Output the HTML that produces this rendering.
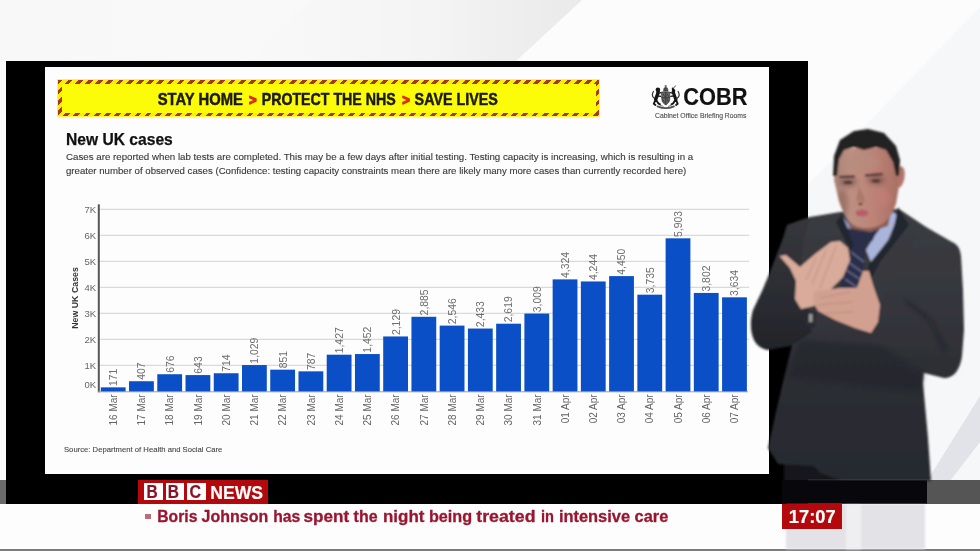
<!DOCTYPE html>
<html lang="en">
<head>
<meta charset="utf-8">
<title>BBC News - New UK cases</title>
<style>
html,body{margin:0;padding:0;}
body{width:980px;height:551px;overflow:hidden;position:relative;background:#fcfcfc;font-family:"Liberation Sans",sans-serif;}
.abs{position:absolute;}
#bg{left:0;top:0;width:980px;height:551px;}
#frame{left:6px;top:60.5px;width:802px;height:443.1px;background:#000;}
#slide{left:45px;top:67px;width:724px;height:407px;background:#fdfdfd;}
#banner{left:57px;top:79px;width:543px;height:38px;background:#fbfb3c;}
#banner .stripes{position:absolute;left:1px;top:1px;right:1px;bottom:1px;background:repeating-linear-gradient(135deg,#a83a12 0 3.4px,#f8f000 3.4px 7.2px);}
#banner .inner{position:absolute;left:4.5px;top:4.5px;right:4.5px;bottom:4.5px;background:#fcfc08;}
#chart{left:0;top:0;}
#chart text,#txt text,#headline text{font-family:"Liberation Sans",sans-serif;}
#txt,#headline{left:0;top:0;}
#txt,#chart,#headline,#banner,#crest,#bbc,#time,#bullet{filter:blur(0.45px);}
.yl{font-size:9.5px;fill:#666;}
.vl{font-size:10.4px;fill:#6e6e6e;}
.xl{font-size:10px;fill:#646464;}
.yt{font-size:8.8px;font-weight:bold;fill:#333;}
#band{left:0;top:480.4px;width:980px;height:23.2px;background:#6a6a6a;}
#bandr{left:808px;top:480.4px;width:172px;height:23.2px;background:#555;}
#white{left:0;top:503.6px;width:980px;height:45px;background:#fdfdfd;}
#bottomline{left:0;top:549.2px;width:980px;height:2px;background:#7c7c7c;}
#bbc{left:138px;top:480.3px;width:130px;height:23.3px;background:#b3080c;}
#bbc .blk{position:absolute;top:2.8px;width:18.6px;height:17.4px;background:#fff;color:#8c1424;font-weight:bold;font-size:17px;line-height:17.8px;text-align:center;}
#bbc .news{position:absolute;left:72.6px;top:1.6px;color:#fff;font-weight:bold;font-size:17.7px;line-height:20px;white-space:nowrap;}
#bullet{left:145px;top:513.6px;width:5.6px;height:5.8px;background:#c06b78;}
#time{left:782px;top:504.4px;width:60px;height:24.2px;background:#b3080c;color:#fff;font-weight:bold;font-size:18px;line-height:24.6px;text-align:center;}
#person{left:0;top:0;}
</style>
</head>
<body>
<svg id="bg" class="abs" width="980" height="551" viewBox="0 0 980 551" aria-hidden="true">
<defs>
<linearGradient id="g1" x1="240" y1="0" x2="560" y2="0" gradientUnits="userSpaceOnUse"><stop offset="0" stop-color="#f9f9f9"/><stop offset="0.6" stop-color="#f4f4f4"/><stop offset="1" stop-color="#ebebec"/></linearGradient>
<linearGradient id="g2" x1="0" y1="0" x2="300" y2="0" gradientUnits="userSpaceOnUse"><stop offset="0" stop-color="#f8f8f8"/><stop offset="1" stop-color="#f9f9f9"/></linearGradient>
</defs>
<rect width="980" height="551" fill="#fcfcfc"/>
<polygon points="0,0 310,0 240,62 0,62" fill="url(#g2)"/>
<polygon points="310,0 582,0 515,62 240,62" fill="url(#g1)"/>
<polygon points="980,7 980,300 807,300 807,186" fill="#f6f7f8"/>
<polygon points="980,300 980,551 807,551 807,300" fill="#f6f7f8"/>
<polygon points="980,396 980,442 950,481 927,481" fill="#e1e3e9"/>
</svg>
<div id="frame" class="abs"></div>
<div id="slide" class="abs"></div>
<div id="banner" class="abs"><div class="stripes"></div><div class="inner"></div></div>
<svg id="crest" class="abs" style="left:651px;top:85px" width="30" height="25" viewBox="0 0 30 25" aria-hidden="true">
<defs><filter id="cb" x="-10%" y="-10%" width="120%" height="120%"><feGaussianBlur stdDeviation="0.3"/></filter></defs>
<g filter="url(#cb)" fill="none" stroke-linecap="round" stroke-linejoin="round">
<!-- lion -->
<circle cx="6.900" cy="4.700" r="2.300" fill="#161616"/>
<path d="M7.200 6.500 C6.800 9.500 5.600 12 4.600 14.500" stroke="#161616" stroke-width="3.400"/>
<path d="M7.500 8.300 L10 7.600 M7 11 L9.800 11.300" stroke="#1c1c1c" stroke-width="1.300"/>
<path d="M4.600 14.500 L2.800 18.800 L4.400 20 M5.200 15 L7.400 18.400 L9 19.300" stroke="#161616" stroke-width="1.900"/>
<path d="M3.600 13.500 C1.200 12 0.900 9 2.400 6.400" stroke="#2a2a2a" stroke-width="1.100"/>
<!-- unicorn -->
<path d="M21.600 3.400 L23.600 5.600 L22 7.200 Z" fill="#161616" stroke="#161616" stroke-width="1.600"/>
<path d="M22.600 3 L24.600 0.700" stroke="#333" stroke-width="0.800"/>
<path d="M22.200 6.500 C22.800 9.500 23.900 12 24.900 14.500" stroke="#161616" stroke-width="3.200"/>
<path d="M21.900 8.300 L19.500 7.600 M22.400 11 L19.700 11.300" stroke="#1c1c1c" stroke-width="1.300"/>
<path d="M24.900 14.500 L26.700 18.800 L25.100 20 M24.300 15 L22.100 18.400 L20.500 19.300" stroke="#161616" stroke-width="1.900"/>
<path d="M25.900 13.500 C28.300 12 28.600 9 27.100 6.400" stroke="#2a2a2a" stroke-width="1.100"/>
<!-- shield -->
<path d="M10.800 7 L18.700 7 L18.700 13.800 C18.700 17.200 16.500 19 14.750 19.800 C13 19 10.800 17.200 10.800 13.800 Z" fill="#6a6a6a" stroke="#333" stroke-width="0.700"/>
<path d="M14.750 7 L14.750 19.500 M10.800 12.800 L18.700 12.800" stroke="#2c2c2c" stroke-width="0.800"/>
<path d="M12 9 L13.600 11.400 M16 9 L17.600 11.400 M12 15 L13.500 17 M16.200 14.500 L17.400 16.600" stroke="#2e2e2e" stroke-width="0.900"/>
<!-- crown -->
<path d="M12.500 6 L12.900 3.200 L14.750 1.900 L16.600 3.200 L17 6 Z" fill="#4a4a4a" stroke="#333" stroke-width="0.500"/>
<path d="M14.750 0.300 L14.750 2 M13.900 1 L15.600 1" stroke="#444" stroke-width="0.700"/>
<!-- motto scroll -->
<path d="M6.500 21.400 C9.500 22.700 12 23.200 14.750 23.200 C17.500 23.200 20 22.700 23 21.400" stroke="#555" stroke-width="1.700"/>
<path d="M9.500 20.300 L12 21.300 M20 20.300 L17.500 21.300" stroke="#777" stroke-width="0.900"/>
</g>
</svg>
<svg id="txt" class="abs" width="980" height="551" viewBox="0 0 980 551">
<text x="157.7" y="104.7" font-size="16.6" fill="#1b1a0c" font-weight="bold" textLength="85.1" lengthAdjust="spacingAndGlyphs" stroke="#1b1a0c" stroke-width="0.5" stroke-linejoin="round">STAY HOME</text>
<text x="249.0" y="104.5" font-size="15" fill="#d9300c" font-weight="bold" textLength="7.6" lengthAdjust="spacingAndGlyphs" stroke="#d9300c" stroke-width="1.3" stroke-linejoin="round">&gt;</text>
<text x="261.7" y="104.7" font-size="16.6" fill="#1b1a0c" font-weight="bold" textLength="134.0" lengthAdjust="spacingAndGlyphs" stroke="#1b1a0c" stroke-width="0.5" stroke-linejoin="round">PROTECT THE NHS</text>
<text x="402.2" y="104.5" font-size="15" fill="#d9300c" font-weight="bold" textLength="7.6" lengthAdjust="spacingAndGlyphs" stroke="#d9300c" stroke-width="1.3" stroke-linejoin="round">&gt;</text>
<text x="414.6" y="104.7" font-size="16.6" fill="#1b1a0c" font-weight="bold" textLength="83.2" lengthAdjust="spacingAndGlyphs" stroke="#1b1a0c" stroke-width="0.5" stroke-linejoin="round">SAVE LIVES</text>
<text x="683.2" y="105.3" font-size="23.4" fill="#111" font-weight="bold" textLength="64.2" lengthAdjust="spacingAndGlyphs" stroke="#111" stroke-width="0.2" stroke-linejoin="round">COBR</text>
<text x="655" y="118.0" font-size="6.8" fill="#484848" textLength="91.4" lengthAdjust="spacingAndGlyphs" stroke="#484848" stroke-width="0.1" stroke-linejoin="round">Cabinet Office Briefing Rooms</text>
<text x="66" y="144.7" font-size="15.9" fill="#111" font-weight="bold" textLength="106.8" lengthAdjust="spacingAndGlyphs" stroke="#111" stroke-width="0.25" stroke-linejoin="round">New UK cases</text>
<text x="66" y="159.8" font-size="9.6" fill="#383838" textLength="627.2" lengthAdjust="spacingAndGlyphs" stroke="#383838" stroke-width="0.12" stroke-linejoin="round">Cases are reported when lab tests are completed. This may be a few days after initial testing. Testing capacity is increasing, which is resulting in a</text>
<text x="66" y="174.0" font-size="9.6" fill="#383838" textLength="620.2" lengthAdjust="spacingAndGlyphs" stroke="#383838" stroke-width="0.12" stroke-linejoin="round">greater number of observed cases (Confidence: testing capacity constraints mean there are likely many more cases than currently recorded here)</text>
<text x="64" y="451.6" font-size="7.6" fill="#444444" textLength="158.3" lengthAdjust="spacingAndGlyphs" stroke="#444444" stroke-width="0.1" stroke-linejoin="round">Source: Department of Health and Social Care</text>
</svg>
<svg id="chart" class="abs" width="980" height="551" viewBox="0 0 980 551">
<line x1="99" y1="365.4" x2="749" y2="365.4" stroke="#dadade" stroke-width="1.2"/>
<line x1="99" y1="339.4" x2="749" y2="339.4" stroke="#dadade" stroke-width="1.2"/>
<line x1="99" y1="313.4" x2="749" y2="313.4" stroke="#dadade" stroke-width="1.2"/>
<line x1="99" y1="287.4" x2="749" y2="287.4" stroke="#dadade" stroke-width="1.2"/>
<line x1="99" y1="261.4" x2="749" y2="261.4" stroke="#dadade" stroke-width="1.2"/>
<line x1="99" y1="235.4" x2="749" y2="235.4" stroke="#dadade" stroke-width="1.2"/>
<line x1="99" y1="209.4" x2="749" y2="209.4" stroke="#dadade" stroke-width="1.2"/>
<text x="96" y="388.2" text-anchor="end" class="yl">0K</text>
<text x="96" y="369.0" text-anchor="end" class="yl">1K</text>
<text x="96" y="343.0" text-anchor="end" class="yl">2K</text>
<text x="96" y="317.0" text-anchor="end" class="yl">3K</text>
<text x="96" y="291.0" text-anchor="end" class="yl">4K</text>
<text x="96" y="265.0" text-anchor="end" class="yl">5K</text>
<text x="96" y="239.0" text-anchor="end" class="yl">6K</text>
<text x="96" y="213.0" text-anchor="end" class="yl">7K</text>
<rect x="100.80" y="387.35" width="24.8" height="4.45" fill="#0b4fc7"/>
<text class="vl" transform="translate(117.10,385.95) rotate(-90)">171</text>
<text class="xl" text-anchor="end" transform="translate(116.90,394.40) rotate(-90)">16 Mar</text>
<rect x="129.04" y="381.22" width="24.8" height="10.58" fill="#0b4fc7"/>
<text class="vl" transform="translate(145.34,379.82) rotate(-90)">407</text>
<text class="xl" text-anchor="end" transform="translate(145.14,394.40) rotate(-90)">17 Mar</text>
<rect x="157.28" y="374.22" width="24.8" height="17.58" fill="#0b4fc7"/>
<text class="vl" transform="translate(173.58,372.82) rotate(-90)">676</text>
<text class="xl" text-anchor="end" transform="translate(173.38,394.40) rotate(-90)">18 Mar</text>
<rect x="185.52" y="375.08" width="24.8" height="16.72" fill="#0b4fc7"/>
<text class="vl" transform="translate(201.82,373.68) rotate(-90)">643</text>
<text class="xl" text-anchor="end" transform="translate(201.62,394.40) rotate(-90)">19 Mar</text>
<rect x="213.76" y="373.24" width="24.8" height="18.56" fill="#0b4fc7"/>
<text class="vl" transform="translate(230.06,371.84) rotate(-90)">714</text>
<text class="xl" text-anchor="end" transform="translate(229.86,394.40) rotate(-90)">20 Mar</text>
<rect x="242.00" y="365.05" width="24.8" height="26.75" fill="#0b4fc7"/>
<text class="vl" transform="translate(258.30,363.65) rotate(-90)">1,029</text>
<text class="xl" text-anchor="end" transform="translate(258.10,394.40) rotate(-90)">21 Mar</text>
<rect x="270.24" y="369.67" width="24.8" height="22.13" fill="#0b4fc7"/>
<text class="vl" transform="translate(286.54,368.27) rotate(-90)">851</text>
<text class="xl" text-anchor="end" transform="translate(286.34,394.40) rotate(-90)">22 Mar</text>
<rect x="298.48" y="371.34" width="24.8" height="20.46" fill="#0b4fc7"/>
<text class="vl" transform="translate(314.78,369.94) rotate(-90)">787</text>
<text class="xl" text-anchor="end" transform="translate(314.58,394.40) rotate(-90)">23 Mar</text>
<rect x="326.72" y="354.70" width="24.8" height="37.10" fill="#0b4fc7"/>
<text class="vl" transform="translate(343.02,353.30) rotate(-90)">1,427</text>
<text class="xl" text-anchor="end" transform="translate(342.82,394.40) rotate(-90)">24 Mar</text>
<rect x="354.96" y="354.05" width="24.8" height="37.75" fill="#0b4fc7"/>
<text class="vl" transform="translate(371.26,352.65) rotate(-90)">1,452</text>
<text class="xl" text-anchor="end" transform="translate(371.06,394.40) rotate(-90)">25 Mar</text>
<rect x="383.20" y="336.45" width="24.8" height="55.35" fill="#0b4fc7"/>
<text class="vl" transform="translate(399.50,335.05) rotate(-90)">2,129</text>
<text class="xl" text-anchor="end" transform="translate(399.30,394.40) rotate(-90)">26 Mar</text>
<rect x="411.44" y="316.79" width="24.8" height="75.01" fill="#0b4fc7"/>
<text class="vl" transform="translate(427.74,315.39) rotate(-90)">2,885</text>
<text class="xl" text-anchor="end" transform="translate(427.54,394.40) rotate(-90)">27 Mar</text>
<rect x="439.68" y="325.60" width="24.8" height="66.20" fill="#0b4fc7"/>
<text class="vl" transform="translate(455.98,324.20) rotate(-90)">2,546</text>
<text class="xl" text-anchor="end" transform="translate(455.78,394.40) rotate(-90)">28 Mar</text>
<rect x="467.92" y="328.54" width="24.8" height="63.26" fill="#0b4fc7"/>
<text class="vl" transform="translate(484.22,327.14) rotate(-90)">2,433</text>
<text class="xl" text-anchor="end" transform="translate(484.02,394.40) rotate(-90)">29 Mar</text>
<rect x="496.16" y="323.71" width="24.8" height="68.09" fill="#0b4fc7"/>
<text class="vl" transform="translate(512.46,322.31) rotate(-90)">2,619</text>
<text class="xl" text-anchor="end" transform="translate(512.26,394.40) rotate(-90)">30 Mar</text>
<rect x="524.40" y="313.57" width="24.8" height="78.23" fill="#0b4fc7"/>
<text class="vl" transform="translate(540.70,312.17) rotate(-90)">3,009</text>
<text class="xl" text-anchor="end" transform="translate(540.50,394.40) rotate(-90)">31 Mar</text>
<rect x="552.64" y="279.38" width="24.8" height="112.42" fill="#0b4fc7"/>
<text class="vl" transform="translate(568.94,277.98) rotate(-90)">4,324</text>
<text class="xl" text-anchor="end" transform="translate(568.74,394.40) rotate(-90)">01 Apr</text>
<rect x="580.88" y="281.46" width="24.8" height="110.34" fill="#0b4fc7"/>
<text class="vl" transform="translate(597.18,280.06) rotate(-90)">4,244</text>
<text class="xl" text-anchor="end" transform="translate(596.98,394.40) rotate(-90)">02 Apr</text>
<rect x="609.12" y="276.10" width="24.8" height="115.70" fill="#0b4fc7"/>
<text class="vl" transform="translate(625.42,274.70) rotate(-90)">4,450</text>
<text class="xl" text-anchor="end" transform="translate(625.22,394.40) rotate(-90)">03 Apr</text>
<rect x="637.36" y="294.69" width="24.8" height="97.11" fill="#0b4fc7"/>
<text class="vl" transform="translate(653.66,293.29) rotate(-90)">3,735</text>
<text class="xl" text-anchor="end" transform="translate(653.46,394.40) rotate(-90)">04 Apr</text>
<rect x="665.60" y="238.32" width="24.8" height="153.48" fill="#0b4fc7"/>
<text class="vl" transform="translate(681.90,236.92) rotate(-90)">5,903</text>
<text class="xl" text-anchor="end" transform="translate(681.70,394.40) rotate(-90)">05 Apr</text>
<rect x="693.84" y="292.95" width="24.8" height="98.85" fill="#0b4fc7"/>
<text class="vl" transform="translate(710.14,291.55) rotate(-90)">3,802</text>
<text class="xl" text-anchor="end" transform="translate(709.94,394.40) rotate(-90)">06 Apr</text>
<rect x="722.08" y="297.32" width="24.8" height="94.48" fill="#0b4fc7"/>
<text class="vl" transform="translate(738.38,295.92) rotate(-90)">3,634</text>
<text class="xl" text-anchor="end" transform="translate(738.18,394.40) rotate(-90)">07 Apr</text>
<line x1="98.8" y1="204.3" x2="98.8" y2="392.3" stroke="#55555a" stroke-width="2"/>
<line x1="98" y1="391.8" x2="748" y2="391.8" stroke="#8aa0c8" stroke-width="1"/>
<text class="yt" text-anchor="middle" transform="translate(78,298) rotate(-90)">New UK Cases</text>
</svg>
<div id="band" class="abs"></div>
<div class="abs" style="left:6px;top:480.4px;width:802px;height:23.2px;background:#000"></div>
<div id="bandr" class="abs"></div>
<div id="white" class="abs"></div>
<div id="bottomline" class="abs"></div>
<svg id="person" class="abs" width="980" height="551" viewBox="0 0 980 551" aria-hidden="true">
<defs>
<filter id="soft" filterUnits="userSpaceOnUse" x="700" y="100" width="280" height="451"><feGaussianBlur stdDeviation="0.9"/></filter>
<filter id="soft2" filterUnits="userSpaceOnUse" x="700" y="100" width="280" height="451"><feGaussianBlur stdDeviation="2"/></filter>
<linearGradient id="suit" x1="0" y1="210" x2="0" y2="480" gradientUnits="userSpaceOnUse">
<stop offset="0" stop-color="#3a3b40"/><stop offset="0.4" stop-color="#35363c"/><stop offset="0.56" stop-color="#2e2f35"/><stop offset="1" stop-color="#27292f"/>
</linearGradient>
<linearGradient id="armr" x1="0" y1="227" x2="0" y2="380" gradientUnits="userSpaceOnUse">
<stop offset="0" stop-color="#3a3b40"/><stop offset="0.5" stop-color="#35363c"/><stop offset="1" stop-color="#2c2d33"/>
</linearGradient>
<linearGradient id="arml" x1="0" y1="225" x2="0" y2="350" gradientUnits="userSpaceOnUse">
<stop offset="0" stop-color="#35363b"/><stop offset="0.6" stop-color="#2b2c32"/><stop offset="1" stop-color="#232429"/>
</linearGradient>
<linearGradient id="face" x1="834" y1="0" x2="900" y2="0" gradientUnits="userSpaceOnUse">
<stop offset="0" stop-color="#a98376"/><stop offset="0.25" stop-color="#bd9082"/><stop offset="0.6" stop-color="#bd8377"/><stop offset="1" stop-color="#a96e63"/>
</linearGradient>
<clipPath id="fc"><path d="M835 160 L834 180 L839 201 C842 210 845 216 848 220 C853 226 859 228 865 228 C873 228 880 226 885 222 C890 217 894 210 896 204 L899 186 L899 168 L894 156 L886 148 L864 147 L843 149 Z"/></clipPath>
</defs>
<!-- legs seen through lower third -->
<rect x="786" y="504" width="139" height="45" fill="#e3e3e7" filter="url(#soft)"/>
<rect x="846" y="504" width="15" height="45" fill="#efeff1" filter="url(#soft)"/>
<g filter="url(#soft)">
<!-- trousers above band -->
<path d="M784 455 L928 455 L928 481 L784 481 Z" fill="#12141c"/>
<!-- torso -->
<path d="M840 212 L810 217 L787 225 L778 300 L792 345 L783 382 L776 412 L768 448 L778 464 L814 466 L820 473 L843 481 L931 481 L928 438 L923 383 L924 372 L940 300 L926 227 L899 209 Z" fill="url(#suit)"/>
<!-- left arm (viewer left) -->
<path d="M810 217 L787 225 L783 238 L778 251 L770 272 L762 291 L753 310 C750 320 750 332 754 340 C757 346 762 349 768 350 L790 346 L812 332 L806 300 L800 270 L804 240 Z" fill="url(#arml)"/>
<!-- right arm -->
<path d="M926 227 L952 242 C957 244 960 248 961 256 L963 290 L964 330 L962 356 C960 370 954 378 944 378 L924 373 L884 348 L874 330 L880 300 L900 262 Z" fill="url(#armr)"/>
<!-- shading creases -->
<path d="M800 340 L880 346 L924 374 L920 392 L786 378 Z" fill="#1e2026" opacity=".45" filter="url(#soft2)"/>
<path d="M905 300 L930 320 L945 350" stroke="#1c1e26" stroke-width="3" fill="none" opacity=".6" filter="url(#soft2)"/>
<!-- shirt -->
<path d="M876 234 L893 212 L898 216 L888 240 L871 262 L866 250 Z" fill="#aab5dc"/>
<path d="M843 217 L851 226 L849 238 L842 228 Z" fill="#8e98bc"/>
<!-- tie -->
<path d="M847 228 L860 232 L876 229 L873 240 L866 246 L861 287 L850 296 L840 287 L852 246 Z" fill="#2c2f48"/>
<path d="M848 262 L862 272 M846 270 L861 280 M851 252 L864 262 M845 279 L858 288" stroke="#6f779c" stroke-width="1.100" fill="none"/>
<!-- lapels -->
<path d="M898 207 L909 225 L880 262 L862 296 L869 264 L892 237 Z" fill="#24262d"/>
<path d="M842 214 L836 222 L850 250 L854 246 Z" fill="#24262d"/>
<!-- neck shadow -->
<path d="M846 214 L892 208 L888 226 L870 232 L850 228 Z" fill="#8a5f56"/>
<!-- face -->
<path d="M835 160 L834 180 L839 201 C842 210 845 216 848 220 C853 226 859 228 865 228 C873 228 880 226 885 222 C890 217 894 210 896 204 L899 186 L899 168 L894 156 L886 148 L864 147 L843 149 Z" fill="url(#face)"/>
<path d="M898 167 C904 164 906 172 904 180 C902 187 899 189 897 187 Z" fill="#b07568"/>
<!-- face shading -->
<g clip-path="url(#fc)">
<ellipse cx="842" cy="204" rx="6" ry="14" fill="#8a6258" opacity=".55" filter="url(#soft2)"/>
<ellipse cx="882" cy="198" rx="8" ry="9" fill="#c47f78" opacity=".6" filter="url(#soft2)"/>
<ellipse cx="862" cy="162" rx="18" ry="8" fill="#b48c7e" opacity=".6" filter="url(#soft2)"/>
<ellipse cx="848" cy="182" rx="9" ry="4.500" fill="#6e4e46" opacity=".6" filter="url(#soft2)"/>
<ellipse cx="876" cy="180" rx="9" ry="4.500" fill="#6e4e46" opacity=".6" filter="url(#soft2)"/>
</g>
<!-- hair -->
<path d="M833 176 L834 156 L840 140 L854 131 L868 129 L884 133 L896 146 L900 160 L899 176 L896 176 L893 162 L886 150 L876 147 L864 150 L854 147 L844 150 L839 159 L837 176 Z" fill="#202024"/>
<!-- face features -->
<path d="M839 177 L855 176.500 M865 175.500 L883 174" stroke="#3a2722" stroke-width="2.200" fill="none"/>
<ellipse cx="848" cy="182.500" rx="4.500" ry="1.700" fill="#4a342e"/>
<ellipse cx="876" cy="181" rx="4.500" ry="1.700" fill="#4a342e"/>
<path d="M859 186 L856 201 L866 202 Z" fill="#a87064" opacity=".7"/>
<ellipse cx="860.500" cy="204" rx="2.200" ry="1.300" fill="#5a3530"/>
<ellipse cx="862" cy="213" rx="6.500" ry="3.600" fill="#b4606a"/>
<!-- hands -->
<path d="M779.500 256 L786 255 L800 267 L815 254 L831 242 L840 241 L848 248 L850 260 L843 277 L830 290 L814 306 L801 309 L795 299 L796 281 L790 268 Z" fill="#d8ab9a"/>
<path d="M814 291 L840 288 L857 288 L863 271 L869 271 L873 285 L880 305 L878 322 L871 333 L855 328 L835 320 L818 311 L813 302 Z" fill="#d2a090"/>
<path d="M816 258 L806 280 M826 250 L812 284 M836 246 L820 288" stroke="#b98876" stroke-width="1" fill="none" opacity=".7"/>
<path d="M820 298 L850 292 M818 305 L852 302 M826 313 L854 312" stroke="#b5806f" stroke-width="1" fill="none" opacity=".7"/>
<path d="M802 309 L816 312 L815 328 L806 326 Z" fill="#2a2b31"/>
<rect x="809" y="314" width="3.500" height="8" fill="#9a9a96"/>
</g>
<!-- dark overlay of band over person -->
<rect x="782" y="480.400" width="145" height="23.200" fill="#08080c"/>
</svg>

<div id="bbc" class="abs"><div class="blk" style="left:6.4px"></div><div class="blk" style="left:27.8px"></div><div class="blk" style="left:49.2px"></div></div>
<div id="bullet" class="abs"></div>
<div id="time" class="abs"></div>
<svg id="headline" class="abs" width="980" height="551" viewBox="0 0 980 551">
<text x="157.3" y="522.2" font-size="16.3" fill="#9a1630" font-weight="bold" textLength="40.1" lengthAdjust="spacingAndGlyphs" stroke="#9a1630" stroke-width="0.3" stroke-linejoin="round">Boris</text>
<text x="201.6" y="522.2" font-size="16.3" fill="#9a1630" font-weight="bold" textLength="66.6" lengthAdjust="spacingAndGlyphs" stroke="#9a1630" stroke-width="0.3" stroke-linejoin="round">Johnson</text>
<text x="273.2" y="522.2" font-size="16.3" fill="#9a1630" font-weight="bold" textLength="27.1" lengthAdjust="spacingAndGlyphs" stroke="#9a1630" stroke-width="0.3" stroke-linejoin="round">has</text>
<text x="303.5" y="522.2" font-size="16.3" fill="#9a1630" font-weight="bold" textLength="45.6" lengthAdjust="spacingAndGlyphs" stroke="#9a1630" stroke-width="0.3" stroke-linejoin="round">spent</text>
<text x="353.6" y="522.2" font-size="16.3" fill="#9a1630" font-weight="bold" textLength="23.9" lengthAdjust="spacingAndGlyphs" stroke="#9a1630" stroke-width="0.3" stroke-linejoin="round">the</text>
<text x="383.0" y="522.2" font-size="16.3" fill="#9a1630" font-weight="bold" textLength="41.4" lengthAdjust="spacingAndGlyphs" stroke="#9a1630" stroke-width="0.3" stroke-linejoin="round">night</text>
<text x="428.9" y="522.2" font-size="16.3" fill="#9a1630" font-weight="bold" textLength="43.2" lengthAdjust="spacingAndGlyphs" stroke="#9a1630" stroke-width="0.3" stroke-linejoin="round">being</text>
<text x="476.3" y="522.2" font-size="16.3" fill="#9a1630" font-weight="bold" textLength="59.2" lengthAdjust="spacingAndGlyphs" stroke="#9a1630" stroke-width="0.3" stroke-linejoin="round">treated</text>
<text x="540.9" y="522.2" font-size="16.3" fill="#9a1630" font-weight="bold" textLength="13.0" lengthAdjust="spacingAndGlyphs" stroke="#9a1630" stroke-width="0.3" stroke-linejoin="round">in</text>
<text x="558.9" y="522.2" font-size="16.3" fill="#9a1630" font-weight="bold" textLength="71.2" lengthAdjust="spacingAndGlyphs" stroke="#9a1630" stroke-width="0.3" stroke-linejoin="round">intensive</text>
<text x="634.6" y="522.2" font-size="16.3" fill="#9a1630" font-weight="bold" textLength="33.7" lengthAdjust="spacingAndGlyphs" stroke="#9a1630" stroke-width="0.3" stroke-linejoin="round">care</text>
<text x="146.4" y="498.3" font-size="17.6" fill="#851526" font-weight="bold" textLength="11.2" lengthAdjust="spacingAndGlyphs" stroke="#851526" stroke-width="0.2" stroke-linejoin="round">B</text>
<text x="167.8" y="498.3" font-size="17.6" fill="#851526" font-weight="bold" textLength="11.2" lengthAdjust="spacingAndGlyphs" stroke="#851526" stroke-width="0.2" stroke-linejoin="round">B</text>
<text x="189.6" y="498.3" font-size="17.6" fill="#851526" font-weight="bold" textLength="11.6" lengthAdjust="spacingAndGlyphs" stroke="#851526" stroke-width="0.2" stroke-linejoin="round">C</text>
<text x="210.3" y="498.5" font-size="17.7" fill="#ffffff" font-weight="bold" textLength="52.8" lengthAdjust="spacingAndGlyphs" stroke="#ffffff" stroke-width="0.2" stroke-linejoin="round">NEWS</text>
<text x="788.8" y="523.4" font-size="17.9" fill="#ffffff" font-weight="bold" textLength="46.8" lengthAdjust="spacingAndGlyphs" stroke="#ffffff" stroke-width="0.2" stroke-linejoin="round">17:07</text>
</svg>
</body>
</html>
